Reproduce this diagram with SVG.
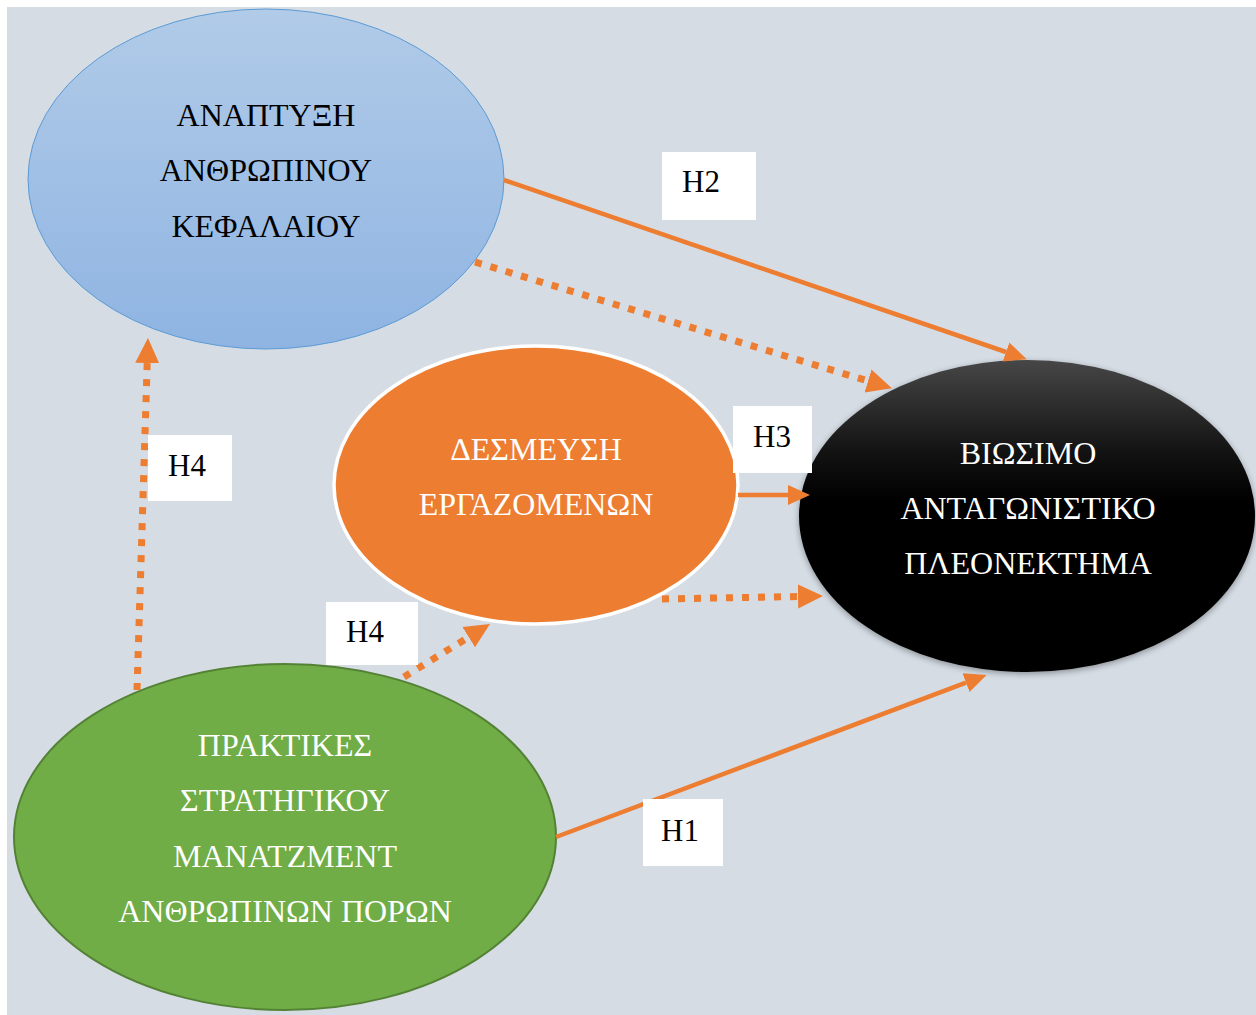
<svg xmlns="http://www.w3.org/2000/svg" width="1256" height="1015" viewBox="0 0 1256 1015">
<style>
  .t { font-family: "Liberation Serif", "Times New Roman", serif; font-size: 32px; text-anchor: middle; }
  .dark { fill: #000000; }
  .light { fill: #ffffff; }
  .lbl { font-family: "Liberation Serif", "Times New Roman", serif; font-size: 31px; fill: #000000; }
  .box { fill: #ffffff; }
  .solid { stroke: #ED7D31; stroke-width: 4.5; fill: none; }
  .dot { stroke: #ED7D31; stroke-width: 7; fill: none; stroke-dasharray: 7 9; }
</style>
<defs>
  <linearGradient id="blueGrad" x1="0" y1="0" x2="0" y2="1">
    <stop offset="0" stop-color="#B1CBE8"/>
    <stop offset="1" stop-color="#8FB4E2"/>
  </linearGradient>
  <linearGradient id="blackGrad" x1="0" y1="0" x2="0" y2="1">
    <stop offset="0" stop-color="#474747"/>
    <stop offset="0.15" stop-color="#2C2C2C"/>
    <stop offset="0.3" stop-color="#121212"/>
    <stop offset="0.45" stop-color="#000000"/>
    <stop offset="1" stop-color="#000000"/>
  </linearGradient>
  <filter id="blur" x="-10%" y="-10%" width="120%" height="120%">
    <feGaussianBlur stdDeviation="3"/>
  </filter>
  <marker id="arrS" markerUnits="userSpaceOnUse" markerWidth="26" markerHeight="26" viewBox="0 -13 26 26" refX="0" refY="0" orient="auto">
    <path d="M0,-10 L22,0 L0,10 z" fill="#ED7D31"/>
  </marker>
  <marker id="arrD" markerUnits="userSpaceOnUse" markerWidth="28" markerHeight="28" viewBox="0 -14 28 28" refX="0" refY="0" orient="auto">
    <path d="M0,-12 L25,0 L0,12 z" fill="#ED7D31"/>
  </marker>
</defs>

<rect x="7" y="7" width="1249" height="1008" fill="#D5DCE4"/>

<g id="node-anaptyxi">
  <ellipse cx="266" cy="179" rx="238" ry="170" fill="url(#blueGrad)" stroke="#5B9BD5" stroke-width="1"/>
  <text class="t dark" x="266" y="126">ΑΝΑΠΤΥΞΗ</text>
  <text class="t dark" x="266" y="181">ΑΝΘΡΩΠΙΝΟΥ</text>
  <text class="t dark" x="266" y="237">ΚΕΦΑΛΑΙΟΥ</text>
</g>

<g id="node-desmeysi">
  <ellipse cx="536" cy="485" rx="202" ry="139" fill="#ED7D31" stroke="#ffffff" stroke-width="3.5"/>
  <text class="t light" x="536" y="460">ΔΕΣΜΕΥΣΗ</text>
  <text class="t light" x="536" y="515">ΕΡΓΑΖΟΜΕΝΩΝ</text>
</g>

<g id="node-viosimo">
  <ellipse cx="1027" cy="518" rx="228" ry="156" fill="#000000" opacity="0.35" filter="url(#blur)"/>
  <ellipse cx="1027" cy="516" rx="228" ry="156" fill="url(#blackGrad)"/>
  <text class="t light" x="1028" y="464">ΒΙΩΣΙΜΟ</text>
  <text class="t light" x="1028" y="519">ΑΝΤΑΓΩΝΙΣΤΙΚΟ</text>
  <text class="t light" x="1028" y="574">ΠΛΕΟΝΕΚΤΗΜΑ</text>
</g>

<g id="node-praktikes">
  <ellipse cx="285" cy="837" rx="271" ry="173" fill="#70AD47" stroke="#548235" stroke-width="2"/>
  <text class="t light" x="285" y="756">ΠΡΑΚΤΙΚΕΣ</text>
  <text class="t light" x="285" y="811">ΣΤΡΑΤΗΓΙΚΟΥ</text>
  <text class="t light" x="285" y="867">ΜΑΝΑΤΖΜΕΝΤ</text>
  <text class="t light" x="285" y="922">ΑΝΘΡΩΠΙΝΩΝ ΠΟΡΩΝ</text>
</g>

<g id="connectors">
  <line class="solid" x1="504" y1="180" x2="1006" y2="352" marker-end="url(#arrS)"/>
  <line class="dot" x1="475" y1="262" x2="868" y2="381" marker-end="url(#arrD)"/>
  <line class="solid" x1="738" y1="495" x2="788" y2="495" marker-end="url(#arrS)"/>
  <line class="dot" x1="662" y1="599" x2="798" y2="596.5" marker-end="url(#arrD)"/>
  <line class="dot" x1="137" y1="690" x2="147.2" y2="363" marker-end="url(#arrD)"/>
  <line class="dot" x1="404" y1="677" x2="468.7" y2="637.1" marker-end="url(#arrD)"/>
  <line class="solid" x1="556" y1="837" x2="966" y2="682.7" marker-end="url(#arrS)"/>
</g>

<g id="label-h2">
  <rect class="box" x="662" y="152" width="94" height="68"/>
  <text class="lbl" x="682" y="192">H2</text>
</g>
<g id="label-h3">
  <rect class="box" x="733" y="406" width="79" height="67"/>
  <text class="lbl" x="753" y="447">H3</text>
</g>
<g id="label-h4-left">
  <rect class="box" x="148" y="435" width="84" height="66"/>
  <text class="lbl" x="168" y="476">H4</text>
</g>
<g id="label-h4-mid">
  <rect class="box" x="326" y="602" width="92" height="63"/>
  <text class="lbl" x="346" y="642">H4</text>
</g>
<g id="label-h1">
  <rect class="box" x="643" y="799" width="80" height="67"/>
  <text class="lbl" x="661" y="841">H1</text>
</g>
</svg>
